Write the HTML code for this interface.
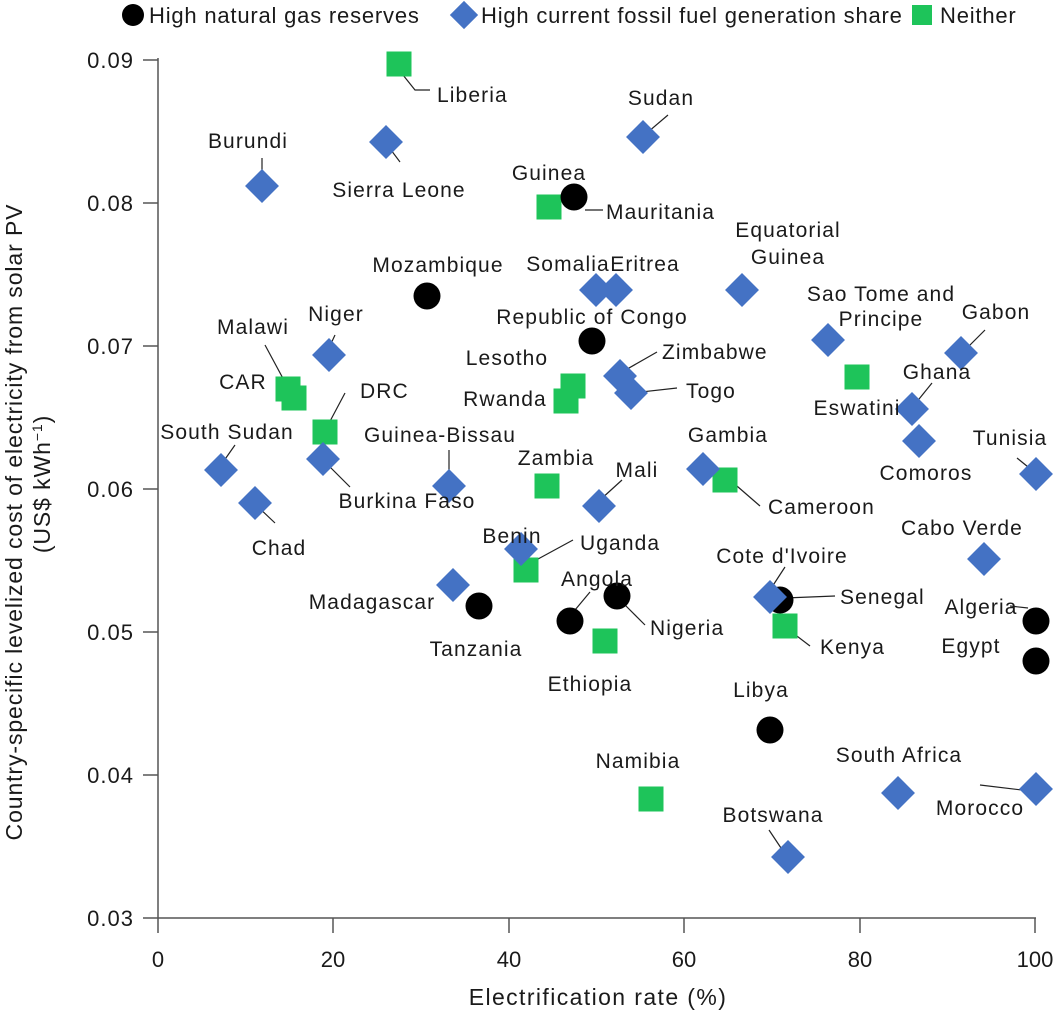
<!DOCTYPE html>
<html><head><meta charset="utf-8"><style>
body{margin:0;background:#fff}
text{font-family:"Liberation Sans",sans-serif;fill:#1a1a1a}
.lb text{letter-spacing:1.1px}
</style></head><body>
<svg width="1056" height="1016" viewBox="0 0 1056 1016" xmlns="http://www.w3.org/2000/svg">
<defs>
<g id="c"><circle r="13.5" fill="#000"/></g>
<g id="d"><rect x="-12" y="-12" width="24" height="24" fill="#4472c4" transform="rotate(45)"/></g>
<g id="s"><rect x="-12.5" y="-12.5" width="25" height="25" fill="#1ec45a"/></g>
</defs>
<!-- legend -->
<circle cx="133" cy="15" r="11" fill="#000"/>
<text x="149" y="23" font-size="22" letter-spacing="0.8">High natural gas reserves</text>
<rect x="454" y="5" width="20" height="20" fill="#4472c4" transform="rotate(45 464 15)"/>
<text x="481" y="23" font-size="22" letter-spacing="0.8">High current fossil fuel generation share</text>
<rect x="912" y="5" width="20" height="20" fill="#1ec45a"/>
<text x="940" y="23" font-size="22" letter-spacing="0.8">Neither</text>
<!-- axes -->
<g stroke="#555" stroke-width="1.5" fill="none">
<line x1="158" y1="58" x2="158" y2="933"/>
<line x1="143" y1="918" x2="1036" y2="918"/>
<line x1="143" y1="60" x2="158" y2="60"/>
<line x1="143" y1="203" x2="158" y2="203"/>
<line x1="143" y1="346" x2="158" y2="346"/>
<line x1="143" y1="489" x2="158" y2="489"/>
<line x1="143" y1="632" x2="158" y2="632"/>
<line x1="143" y1="775" x2="158" y2="775"/>
<line x1="333" y1="918" x2="333" y2="933"/>
<line x1="509" y1="918" x2="509" y2="933"/>
<line x1="684" y1="918" x2="684" y2="933"/>
<line x1="860" y1="918" x2="860" y2="933"/>
<line x1="1035" y1="918" x2="1035" y2="933"/>
</g>
<g font-size="22" text-anchor="end" letter-spacing="1">
<text x="134" y="68">0.09</text><text x="134" y="211">0.08</text><text x="134" y="354">0.07</text>
<text x="134" y="497">0.06</text><text x="134" y="640">0.05</text><text x="134" y="783">0.04</text><text x="134" y="926">0.03</text>
</g>
<g font-size="22" text-anchor="middle">
<text x="158" y="967">0</text><text x="333" y="967">20</text><text x="509" y="967">40</text>
<text x="684" y="967">60</text><text x="860" y="967">80</text><text x="1035" y="967">100</text>
<text x="598" y="1005" font-size="23" letter-spacing="1.4">Electrification rate (%)</text>
</g>
<g font-size="23" text-anchor="middle" letter-spacing="0.9">
<text transform="translate(22 522) rotate(-90)">Country-specific levelized cost of electricity from solar PV</text>
<text transform="translate(50 484) rotate(-90)">(US$ kWh<tspan font-size="14" dy="-8">−1</tspan><tspan dy="8">)</tspan></text>
</g>
<!-- leader lines -->
<g stroke="#222" stroke-width="1.2" fill="none">
<line x1="585" y1="210" x2="603" y2="210"/>
<line x1="575" y1="610" x2="590" y2="592"/>
<line x1="625" y1="605" x2="645" y2="625"/>
<line x1="785" y1="598" x2="835" y2="596"/>
<line x1="1010" y1="606" x2="1028" y2="608"/>
<line x1="648" y1="132" x2="668" y2="115"/>
<line x1="388" y1="146" x2="400" y2="162"/>
<line x1="262" y1="158" x2="262" y2="180"/>
<line x1="965" y1="350" x2="985" y2="330"/>
<line x1="328" y1="350" x2="335" y2="335"/>
<line x1="622" y1="372" x2="657" y2="352"/>
<line x1="632" y1="393" x2="677" y2="388"/>
<line x1="915" y1="404" x2="932" y2="383"/>
<line x1="1017" y1="458" x2="1033" y2="471"/>
<line x1="221" y1="465" x2="235" y2="445"/>
<line x1="256" y1="505" x2="275" y2="523"/>
<line x1="325" y1="462" x2="350" y2="487"/>
<line x1="449" y1="481" x2="449" y2="450"/>
<line x1="600" y1="500" x2="622" y2="480"/>
<line x1="770" y1="590" x2="785" y2="567"/>
<line x1="980" y1="785" x2="1030" y2="791"/>
<line x1="783" y1="851" x2="769" y2="830"/>
<polyline points="403,75 415,90 430,90"/>
<line x1="265" y1="345" x2="286" y2="384"/>
<line x1="328" y1="425" x2="345" y2="393"/>
<line x1="730" y1="480" x2="760" y2="506"/>
<line x1="527" y1="565" x2="573" y2="540"/>
<line x1="789" y1="630" x2="810" y2="646"/>
</g>
<!-- markers -->
<use href="#s" x="399" y="64"/><use href="#s" x="549" y="207"/><use href="#s" x="288" y="389"/>
<use href="#s" x="294" y="398"/><use href="#s" x="325" y="432"/><use href="#s" x="573" y="386"/>
<use href="#s" x="566" y="401"/><use href="#s" x="857" y="377"/><use href="#s" x="547" y="486"/>
<use href="#s" x="725" y="480"/><use href="#s" x="526" y="570"/><use href="#s" x="785" y="626"/>
<use href="#s" x="605" y="641"/><use href="#s" x="651" y="799"/>
<use href="#c" x="574" y="197"/><use href="#c" x="427" y="296"/><use href="#c" x="592" y="341"/>
<use href="#c" x="479" y="606"/><use href="#c" x="570" y="621"/><use href="#c" x="617" y="596"/>
<use href="#c" x="780" y="600"/><use href="#c" x="1036" y="621"/><use href="#c" x="1036" y="661"/>
<use href="#c" x="770" y="730"/>
<use href="#d" x="643" y="137"/><use href="#d" x="386" y="142"/><use href="#d" x="262" y="186"/>
<use href="#d" x="596" y="290"/><use href="#d" x="616" y="290"/><use href="#d" x="742" y="290"/>
<use href="#d" x="828" y="340"/><use href="#d" x="961" y="353"/><use href="#d" x="329" y="355"/>
<use href="#d" x="620" y="376"/><use href="#d" x="631" y="393"/><use href="#d" x="912" y="409"/>
<use href="#d" x="919" y="441"/><use href="#d" x="1036" y="474"/><use href="#d" x="221" y="470"/>
<use href="#d" x="255" y="503"/><use href="#d" x="323" y="459"/><use href="#d" x="449" y="486"/>
<use href="#d" x="703" y="469"/><use href="#d" x="599" y="506"/><use href="#d" x="521" y="549"/>
<use href="#d" x="453" y="585"/><use href="#d" x="770" y="597"/><use href="#d" x="984" y="559"/>
<use href="#d" x="898" y="793"/><use href="#d" x="1036" y="789"/><use href="#d" x="788" y="857"/>
<!-- labels -->
<g class="lb" font-size="21" text-anchor="middle">
<text x="438" y="272">Mozambique</text><text x="592" y="324">Republic of Congo</text>
<text x="476" y="656">Tanzania</text><text x="597" y="586">Angola</text>
<text x="981" y="614">Algeria</text><text x="971" y="653">Egypt</text><text x="761" y="697">Libya</text>
<text x="661" y="105">Sudan</text><text x="399" y="197">Sierra Leone</text><text x="248" y="148">Burundi</text>
<text x="568" y="271">Somalia</text><text x="645" y="271">Eritrea</text>
<text x="788" y="237">Equatorial</text><text x="788" y="264">Guinea</text>
<text x="881" y="301">Sao Tome and</text><text x="881" y="326">Principe</text>
<text x="996" y="319">Gabon</text><text x="336" y="321">Niger</text><text x="937" y="379">Ghana</text>
<text x="926" y="480">Comoros</text><text x="1010" y="445">Tunisia</text><text x="227" y="439">South Sudan</text>
<text x="279" y="555">Chad</text><text x="407" y="508">Burkina Faso</text><text x="440" y="442">Guinea-Bissau</text>
<text x="728" y="442">Gambia</text><text x="637" y="477">Mali</text><text x="512" y="543">Benin</text>
<text x="372" y="609">Madagascar</text><text x="782" y="563">Cote d'Ivoire</text><text x="962" y="535">Cabo Verde</text>
<text x="899" y="762">South Africa</text><text x="980" y="815">Morocco</text><text x="773" y="822">Botswana</text>
<text x="549" y="180">Guinea</text><text x="253" y="334">Malawi</text><text x="243" y="389">CAR</text>
<text x="507" y="365">Lesotho</text><text x="505" y="406">Rwanda</text><text x="857" y="415">Eswatini</text>
<text x="556" y="465">Zambia</text><text x="590" y="691">Ethiopia</text><text x="638" y="768">Namibia</text>
</g>
<g class="lb" font-size="21">
<text x="606" y="219">Mauritania</text><text x="650" y="635">Nigeria</text><text x="840" y="604">Senegal</text>
<text x="662" y="359">Zimbabwe</text><text x="686" y="398">Togo</text><text x="437" y="102">Liberia</text>
<text x="360" y="398">DRC</text><text x="768" y="514">Cameroon</text><text x="580" y="550">Uganda</text>
<text x="820" y="654">Kenya</text>
</g>
</svg>
</body></html>
